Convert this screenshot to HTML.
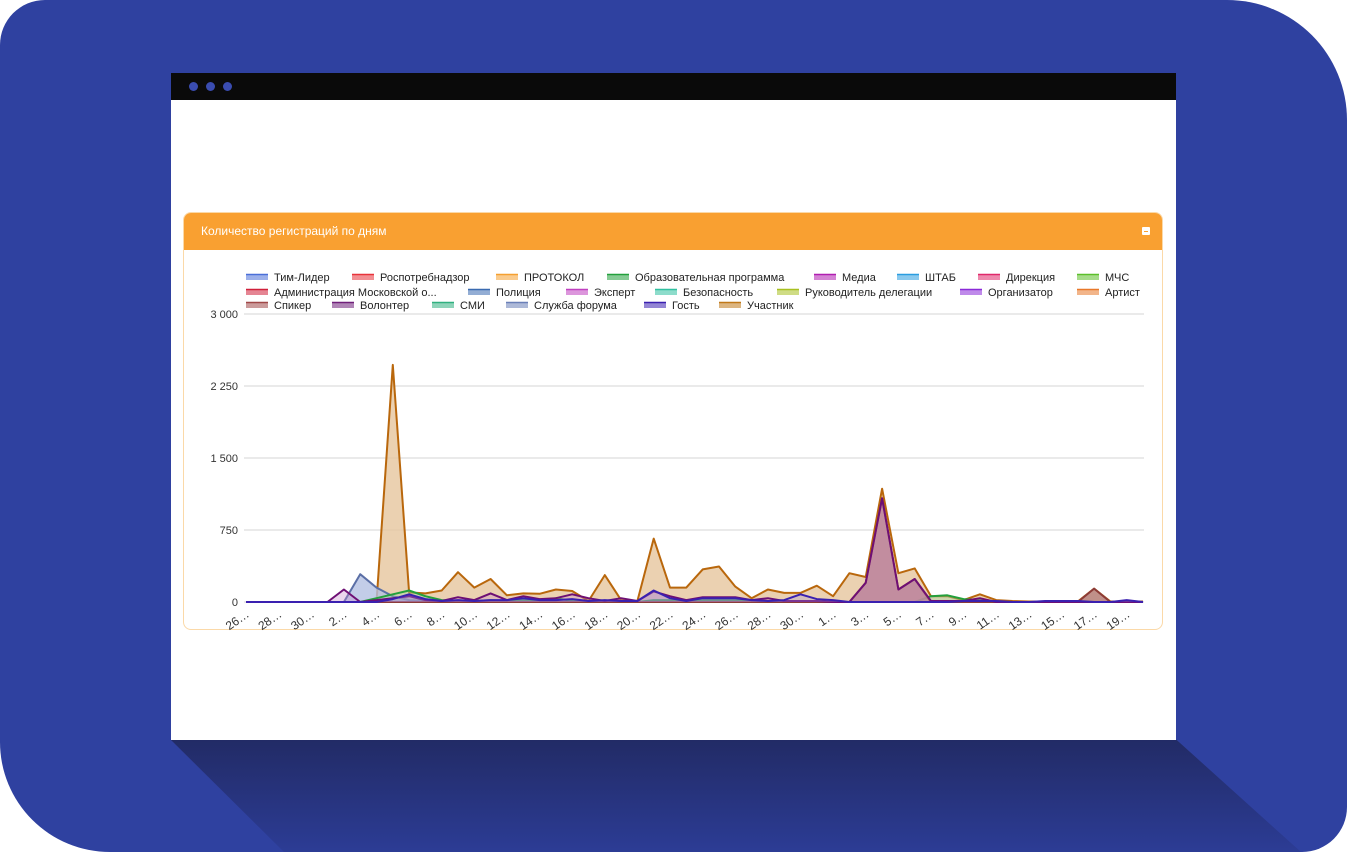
<!DOCTYPE html>
<html><head><meta charset="utf-8">
<style>
html,body{margin:0;padding:0;width:1347px;height:852px;overflow:hidden;background:#fff;font-family:"Liberation Sans","Noto Sans CJK SC",sans-serif}
#bg{position:absolute;left:0;top:0;width:1347px;height:852px;background:#2f41a0;border-radius:45px 120px 45px 110px}
#shadow{position:absolute;left:171px;top:740px;width:1130px;height:112px;background:linear-gradient(#222b66,#2c3c95);clip-path:polygon(0 0,89% 0,100% 100%,10% 100%)}
#win{position:absolute;left:171px;top:73px;width:1005px;height:667px;background:#fff}
#bar{position:absolute;left:0;top:0;width:1005px;height:27px;background:#0a0a0a}
.dot{position:absolute;top:9px;width:9px;height:9px;border-radius:50%;background:#3a4cb0}
#card{position:absolute;left:12px;top:139px;width:978px;height:416px;border:1px solid #fbd9a8;border-radius:8px;background:#fff;overflow:hidden}
#hdr{height:37px;background:#f9a031;color:#fff;font-size:12px;line-height:37px;padding-left:17px}
#min{position:absolute;right:12px;top:14px;width:8px;height:8px;background:#fff;border-radius:1px}
#min:after{content:"";position:absolute;left:2px;top:3.5px;width:4px;height:1px;background:#f9a031}
svg{position:absolute;left:0;top:0}
</style></head><body>
<div id="bg"></div>
<div id="shadow"></div>
<div id="win">
 <div id="bar">
  <div class="dot" style="left:18px"></div>
  <div class="dot" style="left:35px"></div>
  <div class="dot" style="left:52px"></div>
 </div>
 <div id="card">
  <div id="hdr">Количество регистраций по дням</div>
  <div id="min"></div>
 </div>
</div>
<svg id="chart" width="1347" height="852"></svg>
<script>
const dates=[26,27,28,29,30,1,2,3,4,5,6,7,8,9,10,11,12,13,14,15,16,17,18,19,20,21,22,23,24,25,26,27,28,29,30,31,1,2,3,4,5,6,7,8,9,10,11,12,13,14,15,16,17,18,19,20];
const yTicks=[0,750,1500,2250,3000];
const yTickLabels=["0","750","1 500","2 250","3 000"];
const participant=[0,0,0,0,0,0,0,0,0,2470,100,90,120,310,150,240,70,90,85,130,115,10,280,20,10,660,150,150,340,370,160,40,130,95,95,170,60,300,260,1180,300,350,60,60,20,80,20,10,5,5,5,5,140,5,5,5];
const speaker=[0,0,0,0,0,0,0,0,0,0,0,0,0,0,0,0,0,0,0,0,0,0,0,0,0,0,0,0,0,0,0,0,0,0,0,0,0,0,200,1080,130,240,0,0,0,0,0,0,0,0,0,0,140,0,0,0];
const volunteer=[0,0,0,0,0,0,130,0,20,40,60,20,10,50,20,90,20,60,30,40,80,40,10,40,10,110,60,20,50,50,50,20,40,10,10,10,0,0,200,1080,130,240,10,10,10,40,0,0,0,0,0,0,0,0,0,0];
const forumService=[0,0,0,0,0,0,0,290,150,60,20,10,0,0,0,0,0,0,0,0,0,0,0,0,0,0,0,0,0,0,0,0,0,0,0,0,0,0,0,0,0,0,0,0,0,0,0,0,0,0,0,0,0,0,0,0];
const education=[0,0,0,0,0,0,0,0,40,80,120,60,20,10,10,20,10,20,20,40,10,0,0,0,0,20,20,10,20,20,20,10,10,10,0,0,0,0,0,0,0,0,60,70,30,20,0,0,0,0,0,0,0,0,0,0];
const guest=[0,0,0,0,0,0,0,0,0,30,80,30,10,20,10,20,20,40,20,20,30,10,20,10,10,120,40,10,40,40,40,20,10,20,80,30,20,0,0,0,0,0,0,0,10,10,10,0,0,10,10,10,0,0,20,0];
const svg=document.getElementById('chart');
const NS='http://www.w3.org/2000/svg';
const x0=246,x1=1143,yBase=602,yTop=314,yMax=3000;
function xs(i){return x0+(x1-x0)*i/(dates.length-1);}
function ys(v){return yBase-(yBase-yTop)*v/yMax;}
function mk(t,a){const e=document.createElementNS(NS,t);for(const k in a)e.setAttribute(k,a[k]);svg.appendChild(e);return e;}
yTicks.forEach((v,k)=>{
 const g=mk('line',{x1:244,x2:1144,y1:ys(v),y2:ys(v),stroke:'#d6d6d6','stroke-width':1});
 
 
 const t=mk('text',{x:238,y:ys(v)+4,'text-anchor':'end','font-size':11,fill:'#333'});
 t.textContent=yTickLabels[k];
 
 
});
dates.forEach((d,i)=>{
 if(i%2)return;
 const t=mk('text',{x:0,y:0,'text-anchor':'end','font-size':12,fill:'#333',transform:`translate(${xs(i)+4},${yBase+14}) rotate(-35)`});
 t.textContent=d+'…';
 
 
});
const series=[
 ['participant',participant,'#b9670c','#e6c59d',0.8],
 ['forum-service',forumService,'#5b6fa6','#b4c0e2',0.8],
 ['education',education,'#23a03c','#9ad8a6',0.4],
 ['speaker',speaker,'#8c3b38','#b98582',0.85],
 ['volunteer',volunteer,'#6e0f74','#c58ac8',0.35],
 ['guest',guest,'#3a20b0','#9d90dd',0.3]
];
series.forEach(s=>{
 const v=s[1];
 let d='M'+xs(0)+','+yBase;
 v.forEach((val,i)=>{d+=' L'+xs(i).toFixed(1)+','+ys(val).toFixed(1);});
 d+=' L'+xs(v.length-1)+','+yBase+' Z';
 const a=mk('path',{d:d,fill:s[3],'fill-opacity':s[4],stroke:'none'});
 
 
 let l='';
 v.forEach((val,i)=>{l+=(i?' L':'M')+xs(i).toFixed(1)+','+ys(val).toFixed(1);});
 const p=mk('path',{d:l,fill:'none',stroke:s[2],'stroke-width':2,'stroke-linejoin':'round'});
 
 
});
const legend=[
 [246,277,'Тим-Лидер','#4a6fd8'],[352,277,'Роспотребнадзор','#e8333a'],[496,277,'ПРОТОКОЛ','#f5a030'],[607,277,'Образовательная программа','#23a03c'],[814,277,'Медиа','#b01eb0'],[897,277,'ШТАБ','#2a9de0'],[978,277,'Дирекция','#e0286a'],[1077,277,'МЧС','#5cbf2a'],
 [246,292,'Администрация Московской о...','#d0203a'],[468,292,'Полиция','#3a6ab0'],[566,292,'Эксперт','#c040c0'],[655,292,'Безопасность','#30c0a0'],[777,292,'Руководитель делегации','#a8c020'],[960,292,'Организатор','#8a2ad8'],[1077,292,'Артист','#e8782a'],
 [246,305,'Спикер','#a04848'],[332,305,'Волонтер','#70207a'],[432,305,'СМИ','#30b080'],[506,305,'Служба форума','#6a80b8'],[644,305,'Гость','#3a20b0'],[719,305,'Участник','#c07818']
];
legend.forEach(e=>{
 const r=mk('rect',{x:e[0],y:e[1]-3,width:22,height:6,fill:e[3],'fill-opacity':0.55});
 
 
 const ln=mk('line',{x1:e[0],x2:e[0]+22,y1:e[1]-2.5,y2:e[1]-2.5,stroke:e[3],'stroke-width':1.5});
 
 
 const t=mk('text',{x:e[0]+28,y:e[1]+4,'font-size':11,fill:'#222'});
 t.textContent=e[2];
 
 
});
</script>
</body></html>
